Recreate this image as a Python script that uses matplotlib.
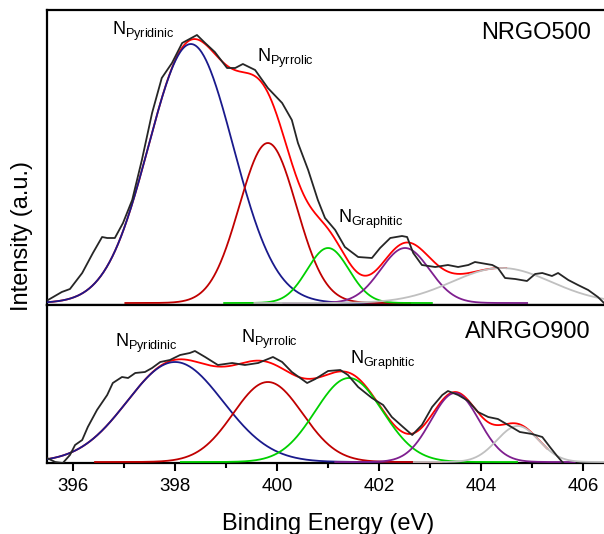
import numpy as np
import matplotlib.pyplot as plt

plt.rcParams['font.family'] = ['Liberation Sans', 'DejaVu Sans']
plt.rcParams['mathtext.fontset'] = 'custom'
plt.rcParams['mathtext.rm'] = 'Liberation Sans'
plt.rcParams['mathtext.it'] = 'Liberation Sans:italic'

# --- measured spectra (binding energy in eV, intensity in a.u.) ---
nrgo500_be = [395.51, 395.78, 395.94, 396.18, 396.39, 396.57, 396.67, 396.82, 396.98,
              397.16, 397.35, 397.55, 397.74, 397.94, 398.14, 398.43, 398.59, 398.78,
              399.02, 399.18, 399.33, 399.57, 399.82, 400.10, 400.29, 400.41, 400.61,
              400.80, 400.94, 401.14, 401.33, 401.59, 401.86, 402.02, 402.22, 402.45,
              402.55, 402.67, 402.84, 403.10, 403.35, 403.55, 403.75, 403.88, 404.22,
              404.33, 404.47, 404.67, 404.90, 405.06, 405.20, 405.39, 405.51, 405.71,
              405.90, 406.10, 406.29, 406.41]
nrgo500_int = [3, 11, 14, 30, 50, 66, 65, 65, 80,
               103, 143, 190, 225, 240, 260, 268, 260, 251,
               235, 235, 239, 233, 215, 200, 183, 160, 133,
               103, 85, 73, 56, 46, 45, 55, 65, 67,
               66, 50, 38, 36, 38, 36, 38, 41, 38,
               35, 25, 24, 22, 29, 30, 27, 30, 23,
               18, 13, 6, 0]

anrgo900_be = [395.49, 395.65, 395.80, 395.94, 396.04, 396.18, 396.29, 396.47, 396.67,
               396.78, 396.96, 397.08, 397.22, 397.41, 397.55, 397.71, 397.90, 398.10,
               398.29, 398.39, 398.59, 398.84, 399.12, 399.37, 399.63, 399.92, 400.10,
               400.29, 400.59, 400.75, 401.00, 401.24, 401.39, 401.59, 401.86, 402.08,
               402.25, 402.47, 402.65, 402.84, 403.04, 403.24, 403.35, 403.55, 403.75,
               403.94, 404.14, 404.33, 404.53, 404.76, 405.00, 405.20, 405.35, 405.49,
               405.61]
anrgo900_int = [4, 0, -1, 7, 17, 22, 35, 52, 67,
                79, 85, 84, 89, 90, 94, 100, 102, 107,
                109, 111, 105, 97, 99, 97, 99, 105, 100,
                90, 79, 83, 91, 92, 87, 75, 64, 57,
                45, 35, 27, 37, 55, 67, 71, 67, 61,
                50, 45, 43, 37, 30, 28, 25, 15, 6,
                -1]

# --- fitted peak parameters: pyridinic, pyrrolic, graphitic, oxidized, satellite ---
nrgo500_center = [398.31, 399.82, 401.00, 402.51, 404.40]
nrgo500_height = [259, 160, 55, 55, 35]
nrgo500_sigma = [0.83, 0.56, 0.41, 0.48, 0.97]

anrgo900_center = [398.00, 399.82, 401.41, 403.49, 404.72]
anrgo900_height = [100, 80, 84, 69, 36]
anrgo900_sigma = [0.94, 0.68, 0.66, 0.47, 0.41]

comp_colors = ['#1a1a8c', '#c00000', '#00d000', '#7f1f8f', '#c0c0c0']

W, H = 604, 534
fig = plt.figure(figsize=(W / 100, H / 100), dpi=100)

def fx(px):
    return px / W

def fy(py):
    return 1 - py / H

ax1 = fig.add_axes([fx(47), fy(305), 1 - fx(47), fy(10) - fy(305)])
ax2 = fig.add_axes([fx(47), fy(463), 1 - fx(47), fy(305) - fy(463)], sharex=ax1)

grid = np.linspace(395.3, 406.6, 800)


def draw_panel(ax, be, inten, centers, heights, sigmas, env_end, ylim, name, name_y):
    comps = [h * np.exp(-(grid - c) ** 2 / (2 * s ** 2))
             for c, h, s in zip(centers, heights, sigmas)]
    env = np.sum(comps, axis=0)
    m = grid <= env_end
    ax.plot(grid[m], env[m], color='#ff0000', lw=1.3, zorder=2)
    for comp, col, c, s in zip(comps, comp_colors, centers, sigmas):
        mm = (grid > c - 5 * s) & (grid < c + 5 * s)
        ax.plot(grid[mm], comp[mm], color=col, lw=1.3, zorder=3)
    ax.plot(be, inten, color='#262626', lw=1.3, zorder=4)
    ax.set_ylim(*ylim)
    ax.set_yticks([])
    for sp in ['left', 'top', 'bottom']:
        ax.spines[sp].set_linewidth(1.6)
    ax.spines['right'].set_visible(False)
    fig.text(fx(591), fy(name_y), name, ha='right', va='center', fontsize=17)


draw_panel(ax1, nrgo500_be, nrgo500_int, nrgo500_center, nrgo500_height,
           nrgo500_sigma, 404.5, (-2, 293), 'NRGO500', 33)
draw_panel(ax2, anrgo900_be, anrgo900_int, anrgo900_center, anrgo900_height,
           anrgo900_sigma, 405.3, (-1, 157), 'ANRGO900', 332)

ax1.set_xlim(395.49, 406.41)
ax1.tick_params(axis='x', which='both', bottom=False, labelbottom=False)
ax2.set_xticks([396, 398, 400, 402, 404, 406])
ax2.set_xticks([397, 399, 401, 403, 405], minor=True)
ax2.tick_params(axis='x', which='major', direction='out', length=6, width=1.5,
                labelsize=13.5, pad=5)
ax2.tick_params(axis='x', which='minor', direction='out', length=3.5, width=1.5)

# peak labels
labels = [(112, 35, r'N$_{\rm Pyridinic}$'), (257, 62, r'N$_{\rm Pyrrolic}$'),
          (338, 223, r'N$_{\rm Graphitic}$'), (115, 347, r'N$_{\rm Pyridinic}$'),
          (241, 343, r'N$_{\rm Pyrrolic}$'), (350, 364, r'N$_{\rm Graphitic}$')]
for px, py, txt in labels:
    fig.text(fx(px), fy(py), txt, ha='left', va='baseline', fontsize=13)

fig.text(fx(328), fy(530), 'Binding Energy (eV)', ha='center', va='baseline', fontsize=17)
fig.text(fx(22), fy(236), 'Intensity (a.u.)', ha='center', va='center',
         rotation=90, fontsize=17)

fig.savefig('out.png', dpi=100)
